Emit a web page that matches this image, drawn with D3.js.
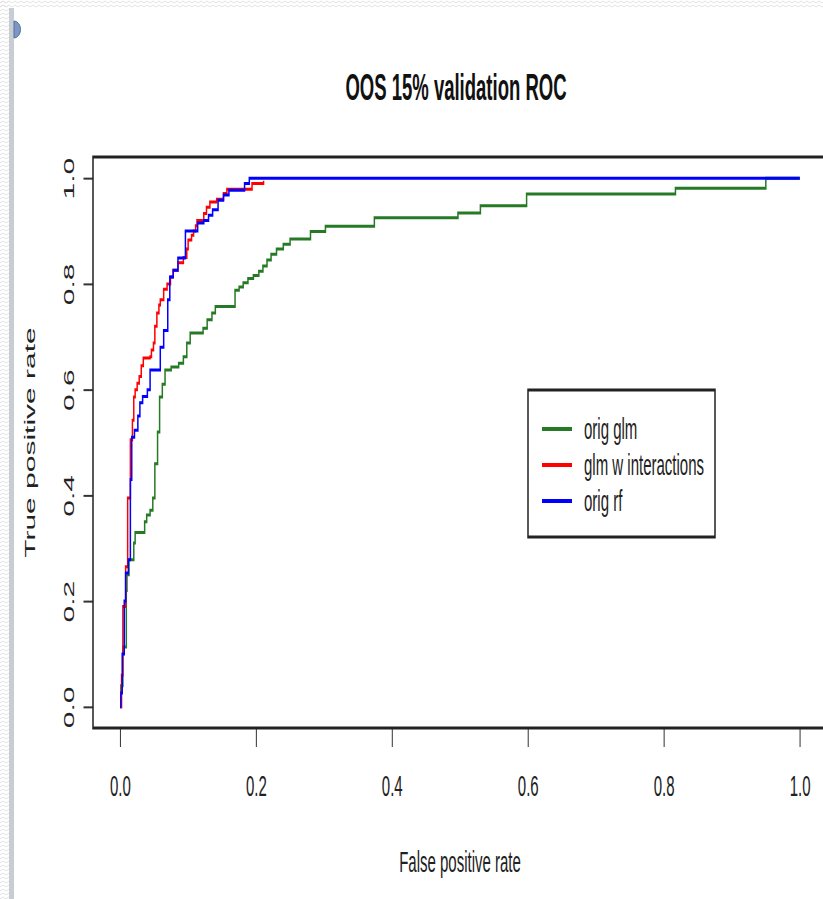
<!DOCTYPE html>
<html>
<head>
<meta charset="utf-8">
<script src="https://cdn.jsdelivr.net/npm/d3@7"></script>
<style>
body { margin: 0; background: #fff; }
text { font-family: "Liberation Sans", Arial, sans-serif; }
</style>
</head>
<body>
<svg id="roc" width="823" height="899"></svg>
<script>
// ROC points (fpr, tpr), drawn as steps
var origGlm = [[0,0],[0.001,0.04],[0.004,0.06],[0.004,0.113],[0.009,0.22],[0.01,0.25],[0.013,0.278],[0.02,0.31],[0.022,0.33],[0.036,0.35],[0.039,0.363],[0.044,0.372],[0.048,0.395],[0.051,0.46],[0.055,0.52],[0.058,0.586],[0.062,0.61],[0.066,0.637],[0.075,0.643],[0.086,0.65],[0.093,0.662],[0.098,0.688],[0.103,0.707],[0.122,0.716],[0.128,0.732],[0.135,0.745],[0.14,0.757],[0.169,0.788],[0.175,0.794],[0.181,0.802],[0.188,0.81],[0.196,0.816],[0.204,0.824],[0.21,0.834],[0.216,0.845],[0.222,0.856],[0.23,0.866],[0.24,0.875],[0.25,0.885],[0.28,0.899],[0.302,0.909],[0.374,0.925],[0.497,0.934],[0.53,0.948],[0.598,0.97],[0.817,0.981],[0.95,1],[1,1]];
var glmInter = [[0,0],[0.002,0.06],[0.004,0.19],[0.008,0.265],[0.011,0.395],[0.015,0.505],[0.018,0.542],[0.02,0.586],[0.022,0.6],[0.025,0.612],[0.028,0.625],[0.031,0.645],[0.034,0.66],[0.044,0.662],[0.046,0.675],[0.049,0.688],[0.051,0.72],[0.054,0.745],[0.057,0.76],[0.059,0.77],[0.064,0.79],[0.069,0.8],[0.074,0.813],[0.078,0.826],[0.085,0.84],[0.093,0.85],[0.098,0.866],[0.1,0.883],[0.105,0.892],[0.108,0.9],[0.111,0.91],[0.113,0.92],[0.123,0.933],[0.127,0.945],[0.132,0.955],[0.142,0.96],[0.152,0.971],[0.157,0.979],[0.194,0.99],[0.211,0.995]];
var origRf = [[0,0],[0.001,0.026],[0.003,0.1],[0.006,0.2],[0.008,0.253],[0.012,0.278],[0.015,0.43],[0.017,0.51],[0.021,0.523],[0.026,0.55],[0.029,0.575],[0.033,0.587],[0.04,0.6],[0.044,0.637],[0.059,0.68],[0.064,0.712],[0.07,0.77],[0.073,0.813],[0.078,0.826],[0.085,0.849],[0.096,0.9],[0.114,0.915],[0.123,0.92],[0.13,0.93],[0.136,0.94],[0.144,0.958],[0.152,0.968],[0.16,0.977],[0.183,0.99],[0.19,1],[1,1]];

var seriesNames = ["orig glm", "glm w interactions", "orig rf"];
var seriesColors = ["#267a26", "#ff0000", "#0000ff"];
var ticks = [0, 0.2, 0.4, 0.6, 0.8, 1.0];

var svg = d3.select("#roc");

// slide-style frame around the picture
var defs = svg.append("defs");
var pat = defs.append("pattern").attr("id", "zig").attr("patternUnits", "userSpaceOnUse")
	.attr("width", 6).attr("height", 4);
pat.append("path").attr("d", "M0,3 L3,1 L6,3").attr("fill", "none").attr("stroke", "#e2e2e2").attr("stroke-width", 1);
svg.append("rect").attr("x", 0).attr("y", 0).attr("width", 823).attr("height", 8).attr("fill", "url(#zig)");
svg.append("rect").attr("x", 0).attr("y", 0).attr("width", 9).attr("height", 899).attr("fill", "url(#zig)");
svg.append("rect").attr("x", 9).attr("y", 8).attr("width", 5).attr("height", 891).attr("fill", "#c8ccd3");
svg.append("path").attr("d", "M14,21 A6.5,8.5 0 0 1 14,38 Z").attr("fill", "#7d97c4").attr("stroke", "#52709f").attr("stroke-width", 1);

// the plot is drawn twice as wide and squeezed, like the screenshot
var g = svg.append("g").attr("transform", "scale(0.5,1)");

var plotL = 186, plotR = 1654, plotT = 157, plotB = 728;
var x = d3.scaleLinear().domain([-0.04, 1.04]).range([plotL, plotR]);
var y = d3.scaleLinear().domain([-0.04, 1.04]).range([plotB, plotT]);

g.append("text").attr("x", (plotL + plotR) / 2 - 8).attr("y", 100)
	.attr("text-anchor", "middle").style("font-size", "37px").style("font-weight", "bold")
	.attr("fill", "#111").text("OOS 15% validation ROC");

var xAxis = g.append("g").attr("transform", "translate(0," + plotB + ")")
	.call(d3.axisBottom(x).tickValues(ticks).tickFormat(d3.format(".1f")).tickSize(19).tickPadding(28));
xAxis.select(".domain").remove();
xAxis.selectAll("line").attr("stroke", "#333").attr("stroke-width", 2);
xAxis.selectAll("text").style("font-size", "30px").attr("fill", "#222");

var yAxis = g.append("g").attr("transform", "translate(" + plotL + ",0)")
	.call(d3.axisLeft(y).tickValues(ticks).tickSize(19));
yAxis.select(".domain").remove();
yAxis.selectAll("line").attr("stroke", "#333").attr("stroke-width", 2);
yAxis.selectAll("text").remove();
yAxis.selectAll(".tick").append("text")
	.attr("transform", "translate(-38,0) rotate(-90)")
	.attr("text-anchor", "middle").attr("fill", "#222").style("font-size", "30px")
	.text(function(d){ return d3.format(".1f")(d); });

g.append("text").attr("x", (plotL + plotR) / 2).attr("y", 872)
	.attr("text-anchor", "middle").style("font-size", "30px").attr("fill", "#222").text("False positive rate");
g.append("text").attr("transform", "translate(70," + (plotT + plotB) / 2 + ") rotate(-90)")
	.attr("text-anchor", "middle").style("font-size", "30px").attr("fill", "#222").text("True positive rate");

var line = d3.line().curve(d3.curveStepAfter)
	.x(function(d){ return x(d[0]); })
	.y(function(d){ return y(d[1]); });

[origGlm, glmInter, origRf].forEach(function(s, i){
	g.append("path").datum(s)
		.attr("fill", "none").attr("stroke", seriesColors[i]).attr("stroke-width", 3)
		.attr("d", line);
});

g.append("rect").attr("x", plotL).attr("y", plotT).attr("width", plotR - plotL).attr("height", plotB - plotT)
	.attr("fill", "none").attr("stroke", "#222").attr("stroke-width", 3);

// legend
var leg = g.append("g");
leg.append("rect").attr("x", 1056).attr("y", 390).attr("width", 374).attr("height", 147)
	.attr("fill", "#fff").attr("stroke", "#222").attr("stroke-width", 3);
seriesNames.forEach(function(name, i){
	var ly = 429 + i * 36;
	leg.append("line").attr("x1", 1084).attr("x2", 1144).attr("y1", ly).attr("y2", ly)
		.attr("stroke", seriesColors[i]).attr("stroke-width", 4);
	leg.append("text").attr("x", 1168).attr("y", ly).attr("dy", "0.35em")
		.style("font-size", "30px").attr("fill", "#222").text(name);
});
</script>
</body>
</html>
